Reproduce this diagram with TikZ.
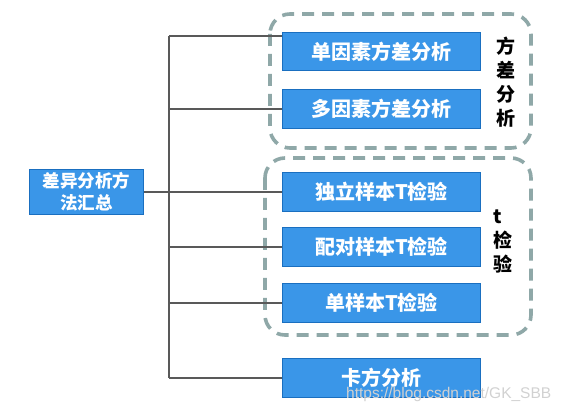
\documentclass[tikz,border=0pt]{standalone}
\usepackage{fontspec}
\setmainfont{Noto Sans CJK SC}
\newfontfamily\wmfont{Liberation Sans}
\begin{document}
\begin{tikzpicture}[x=1pt,y=-1pt,
  box/.style={draw=boxborder,fill=boxfill,line width=1pt,text=white,font=\bfseries\fontsize{20}{22}\selectfont,inner sep=0pt,anchor=north west},
  link/.style={draw=linkgray,line width=1.6pt},
  group/.style={draw=groupgray,line width=3.6pt,dash pattern=on 12pt off 8pt,rounded corners=20pt},
  glabel/.style={font=\bfseries\fontsize{19}{24}\selectfont,text=black,align=left,inner sep=0pt,anchor=north west}]
\definecolor{boxfill}{HTML}{3A96E8}
\definecolor{boxborder}{HTML}{1A6FC0}
\definecolor{linkgray}{HTML}{595959}
\definecolor{groupgray}{HTML}{8FA8A8}
\useasboundingbox (0,0) rectangle (566,414);
% groups
\draw[group] (270,14) rectangle (531,148);
\draw[group] (265,158) rectangle (531,335);
% nodes
\node[box,minimum width=114pt,minimum height=45pt,align=center,font=\bfseries\fontsize{17.5}{22}\selectfont] (root) at (29,169) {差异分析方\\法汇总};
\node[box,minimum width=198pt,minimum height=38pt] (a1) at (282,32) {单因素方差分析};
\node[box,minimum width=198pt,minimum height=39pt] (a2) at (282,89) {多因素方差分析};
\node[box,minimum width=198pt,minimum height=39pt] (b1) at (282,172) {独立样本T检验};
\node[box,minimum width=198pt,minimum height=39pt] (b2) at (282,227) {配对样本T检验};
\node[box,minimum width=198pt,minimum height=39pt] (b3) at (282,283) {单样本T检验};
\node[box,minimum width=198pt,minimum height=39pt] (c1) at (282,358) {卡方分析};
% labels
\node[glabel] (la) at (496,37) {方\\差\\分\\析};
\node[glabel] (lb) at (493,210) {t\\检\\验};
% connectors
\coordinate (top) at (169,36);
\coordinate (bot) at (169,378);
\draw[link] (top) -- (bot);
\draw[link] (top) -- (a1.west |- top);
\draw[link] (root.east) -- (b1.west);
\draw[link] (top |- a2.west) -- (a2.west);
\draw[link] (top |- b2.west) -- (b2.west);
\draw[link] (top |- b3.west) -- (b3.west);
\draw[link] (bot) -- (c1.west |- bot);
% watermark
\node[anchor=west,inner sep=0pt,font=\wmfont\fontsize{15.5}{15.5}\selectfont,text=black!18] (wm) at (346,394) {https://blog.csdn.net/GK\_SBB};
\end{tikzpicture}
\end{document}
